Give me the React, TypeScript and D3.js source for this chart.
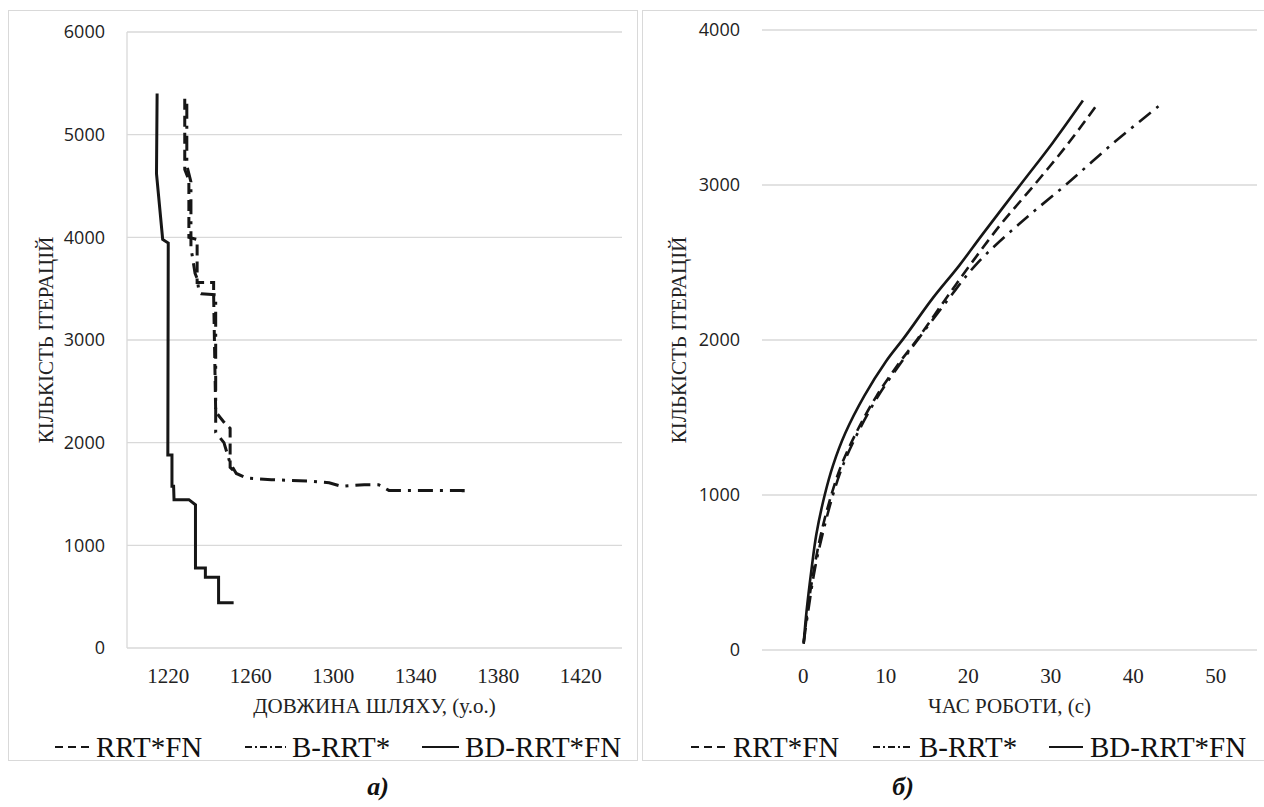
import * as d3 from "d3";

// --- дані ---
// а) кількість ітерацій від довжини шляху
const lenRRTFN: [number, number][] = [
  [1228, 5350], [1228, 4660], [1230, 4560], [1230, 4000], [1234, 3980],
  [1234, 3560], [1242, 3560], [1242, 3440], [1243, 2300], [1247, 2200],
  [1250, 2140], [1250, 1760], [1253, 1700],
];
const lenBRRT: [number, number][] = [
  [1229, 5300], [1229, 4700], [1231, 4540], [1231, 3900], [1233, 3650],
  [1234, 3600], [1235, 3460], [1236, 3450], [1243, 3440], [1243, 2100],
  [1247, 2000], [1250, 1800], [1253, 1700], [1258, 1655], [1270, 1640],
  [1289, 1625], [1298, 1610], [1304, 1575], [1315, 1590], [1322, 1590],
  [1327, 1535], [1363, 1535], [1363, 1470],
];
const lenBDRRTFN: [number, number][] = [
  [1214.6, 5400], [1214.3, 4620], [1217.3, 3980], [1220, 3945],
  [1219.8, 1880], [1221.8, 1880], [1221.8, 1575], [1222.6, 1575],
  [1222.8, 1445], [1230, 1445], [1233.2, 1395], [1233.2, 780],
  [1238, 780], [1238, 690], [1244.4, 690], [1244.4, 440], [1251.7, 440],
];

// б) кількість ітерацій від часу роботи
const timeRRTFN: [number, number][] = [
  [0.05, 40], [0.5, 250], [1.3, 520], [2.2, 760], [3.4, 1000], [4.6, 1190],
  [6.4, 1400], [8.9, 1640], [11.6, 1850], [13.9, 2010], [17.2, 2260],
  [20.3, 2490], [24, 2750], [28, 3000], [32, 3260], [35.5, 3510],
];
const timeBRRT: [number, number][] = [
  [0.05, 50], [0.6, 250], [1.4, 520], [2.4, 760], [3.6, 1000], [4.8, 1190],
  [6.6, 1400], [9.1, 1640], [11.8, 1850], [14, 2010], [17.4, 2250],
  [21, 2490], [26.2, 2750], [31.8, 3000], [37.8, 3280], [43.7, 3535],
];
const timeBDRRTFN: [number, number][] = [
  [0.05, 45], [0.4, 250], [1.0, 520], [1.6, 750], [2.6, 1000], [3.6, 1190],
  [5.1, 1400], [7.4, 1640], [10, 1860], [12.3, 2020], [15.7, 2270],
  [18.9, 2480], [21.7, 2680], [26.3, 3000], [30.2, 3270], [33.9, 3545],
];

const seriesNames = ["RRT*FN", "B-RRT*", "BD-RRT*FN"];
const leftXTicks = [1220, 1260, 1300, 1340, 1380, 1420];
const leftYTicks = [0, 1000, 2000, 3000, 4000, 5000, 6000];
const rightXTicks = [0, 10, 20, 30, 40, 50];
const rightYTicks = [0, 1000, 2000, 3000, 4000];

const SERIF = "'Liberation Serif', 'Times New Roman', serif";
const SANS = "'Open Sans', 'Liberation Sans', sans-serif";
const INK = "#161616";
const GRID = "#d9d9d9";

// стилі ліній у тому ж порядку, що й seriesNames
const dashes = ["11 6", "15 7 3 7", null];

function Panel({ box, xDomain, xRange, yDomain, yRange, xTicks, yTicks, data, smooth,
  xTitle, yTitleX, leftAxisLine, legend, caption, strokeW }) {
  const x = d3.scaleLinear().domain(xDomain).range(xRange);
  const y = d3.scaleLinear().domain(yDomain).range(yRange);
  const line = d3
    .line<[number, number]>()
    .x((d) => x(d[0]))
    .y((d) => y(d[1]))
    .curve(smooth ? d3.curveCatmullRom.alpha(0.5) : d3.curveLinear);
  const cx = (xRange[0] + xRange[1]) / 2;
  const cy = (yRange[0] + yRange[1]) / 2;
  return (
    <g>
      <rect x={box[0]} y={box[1]} width={box[2]} height={box[3]} fill="#fff" stroke={GRID} strokeWidth={1} />
      {yTicks.map((t) => (
        <g key={"y" + t}>
          <line x1={xRange[0]} x2={xRange[1]} y1={y(t)} y2={y(t)} stroke={GRID} strokeWidth={1.3} />
          <text x={xRange[0] - 22} y={y(t)} dy="0.35em" textAnchor="end" fontFamily={SANS} fontSize={18} fill="#222">
            {t}
          </text>
        </g>
      ))}
      {leftAxisLine && (
        <line x1={xRange[0]} x2={xRange[0]} y1={yRange[0]} y2={yRange[1]} stroke={GRID} strokeWidth={1.3} />
      )}
      {xTicks.map((t) => (
        <text key={"x" + t} x={x(t)} y={683} textAnchor="middle" fontFamily={SERIF} fontSize={21} fill="#222">
          {t}
        </text>
      ))}
      <text x={cx} y={713} textAnchor="middle" fontFamily={SERIF} fontSize={21} fill="#222">
        {xTitle}
      </text>
      <text
        transform={`translate(${yTitleX},${cy}) rotate(-90)`}
        textAnchor="middle"
        dy="0.35em"
        fontFamily={SERIF}
        fontSize={21}
        fill="#222"
      >
        КІЛЬКІСТЬ ІТЕРАЦІЙ
      </text>
      {data.map((s, i) => (
        <path
          key={i}
          d={line(s) || ""}
          fill="none"
          stroke={INK}
          strokeWidth={strokeW}
          strokeDasharray={dashes[i] || undefined}
          strokeLinejoin="miter"
        />
      ))}
      {legend.map((it, i) => (
        <g key={"l" + i}>
          <line
            x1={it[0]}
            x2={it[1]}
            y1={747}
            y2={747}
            stroke={INK}
            strokeWidth={2}
            strokeDasharray={i === 0 ? "8 5" : i === 1 ? "7 3 2 3" : undefined}
          />
          <text x={it[2]} y={757} fontFamily={SERIF} fontSize={29} fill="#111">
            {seriesNames[i]}
          </text>
        </g>
      ))}
      <text x={caption[0]} y={caption[1]} textAnchor="middle" fontFamily={SERIF} fontSize={26}
        fontStyle="italic" fontWeight="bold" fill="#111">
        {caption[2]}
      </text>
    </g>
  );
}

export default function App() {
  return (
    <svg width={1264} height={807} style={{ position: "absolute", left: 0, top: 0, background: "#fff" }}>
      <rect width={1264} height={807} fill="#fff" />
      <Panel
        box={[8.5, 10.5, 629, 750]}
        xDomain={[1200, 1440]}
        xRange={[127, 622]}
        yDomain={[0, 6000]}
        yRange={[648, 32]}
        xTicks={leftXTicks}
        yTicks={leftYTicks}
        data={[lenRRTFN, lenBRRT, lenBDRRTFN]}
        smooth={false}
        xTitle="ДОВЖИНА ШЛЯХУ, (у.о.)"
        yTitleX={46}
        leftAxisLine={true}
        legend={[[55, 92, 96], [245, 286, 292], [422, 459, 465]]}
        caption={[378, 795, "а)"]}
        strokeW={3}
      />
      <Panel
        box={[642.5, 10.5, 630, 750]}
        xDomain={[-5, 55]}
        xRange={[762, 1257]}
        yDomain={[0, 4000]}
        yRange={[650, 30]}
        xTicks={rightXTicks}
        yTicks={rightYTicks}
        data={[timeRRTFN, timeBRRT, timeBDRRTFN]}
        smooth={true}
        xTitle="ЧАС РОБОТИ, (с)"
        yTitleX={679}
        leftAxisLine={false}
        legend={[[691, 729, 733], [873, 913, 919], [1049, 1083, 1090]]}
        caption={[903, 795, "б)"]}
        strokeW={2.6}
      />
    </svg>
  );
}
